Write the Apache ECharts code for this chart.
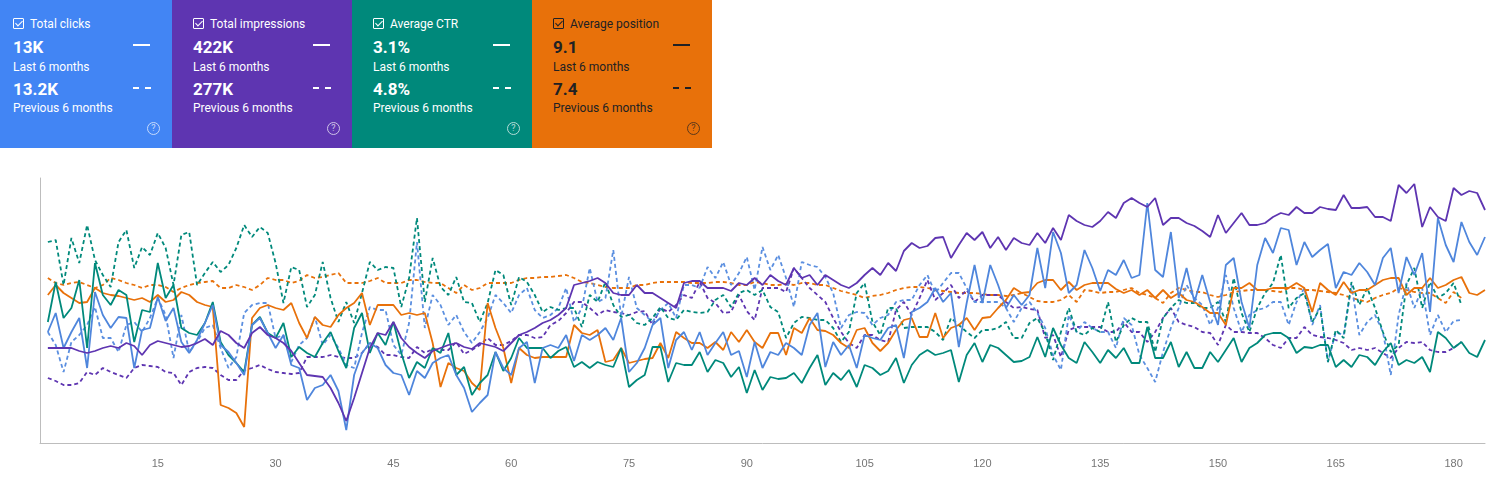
<!DOCTYPE html>
<html>
<head>
<meta charset="utf-8">
<script src="https://cdn.jsdelivr.net/npm/echarts@6/dist/echarts.min.js"></script>
<style>
  body { margin: 0; width: 1488px; height: 485px; background: #fff; font-family: Roboto, "Noto Sans", Arial, sans-serif; overflow: hidden; position: relative; }
  .card { position: absolute; top: 0; height: 148px; color: #fff; box-sizing: border-box; }
  .card .t { position: absolute; top: 17px; font-size: 12px; }
  .card .t span.cb { display: inline-block; width: 9px; height: 9px; border: 1.3px solid currentColor; border-radius: 1px; margin-right: 6px; vertical-align: -1px; position: relative; }
  .card .t span.cb:after { content: ""; position: absolute; left: 2.5px; top: 0px; width: 3px; height: 6px; border: solid currentColor; border-width: 0 1.3px 1.3px 0; transform: rotate(45deg); }
  .card .v { position: absolute; font-size: 17px; font-weight: bold; }
  .card .l { position: absolute; font-size: 12px; }
  .card .solid { position: absolute; top: 44px; width: 17px; border-top: 2px solid currentColor; }
  .card .dash { position: absolute; top: 87px; width: 18px; border-top: 2px dashed currentColor; }
  .card .h { position: absolute; top: 122px; width: 11px; height: 11px; border: 1.3px solid currentColor; border-radius: 50%; font-size: 9px; line-height: 11px; text-align: center; opacity: 0.7; }
  #chart { position: absolute; left: 0; top: 0; width: 1488px; height: 485px; }
</style>
</head>
<body>
<div id="chart"></div>
<div id="cards"></div>
<script>
// days on the x axis
const days = Array.from({ length: 184 }, (_, i) => i + 1);

const clicksNow = [111,130,95,111,125,75,151,128,115,126,125,75,113,115,146,122,135,101,90,103,
120,138,98,91,80,68,118,125,110,95,108,78,75,43,55,58,68,52,13,68,
90,100,95,78,70,68,48,72,65,80,85,88,68,55,31,40,48,91,75,68,
95,101,60,95,98,95,108,82,108,103,108,115,103,125,71,80,95,118,125,75,
103,111,93,111,88,100,111,88,92,66,101,75,91,88,100,95,88,118,130,76,
101,88,98,75,108,105,103,115,118,85,131,135,141,155,141,150,96,140,178,140,
178,158,135,148,138,148,195,155,211,190,150,158,193,175,152,173,168,183,165,168,
240,173,166,211,145,175,141,168,141,118,178,185,141,115,178,205,190,215,213,178,
201,186,193,199,155,171,168,180,171,158,185,195,150,186,168,190,131,225,198,181,
221,201,188,206];
const clicksPrev = [111,98,71,101,108,118,136,105,105,91,118,121,111,125,145,128,85,128,91,101,
115,118,95,75,86,130,138,140,140,105,108,81,98,105,126,98,108,95,78,75,
110,136,133,133,98,88,120,201,115,148,138,118,128,111,100,111,125,148,140,130,
148,155,133,125,128,135,155,121,135,175,141,145,193,126,166,135,128,121,133,140,
125,158,158,155,176,165,181,158,170,186,153,196,173,188,165,136,181,178,176,166,
150,115,128,131,130,118,125,128,141,143,143,158,168,150,160,170,170,155,141,141,
141,141,135,121,135,141,130,115,88,73,128,111,121,115,111,111,95,125,118,88,
75,61,91,115,135,158,145,138,118,135,168,135,111,128,133,135,141,141,118,141,
155,118,138,81,111,108,158,108,121,128,111,68,128,160,135,155,108,128,111,122,
123];
const imprNow = [95,95,95,95,92,90,92,95,97,95,100,97,88,98,102,100,98,96,97,100,
104,98,112,108,100,95,110,116,108,105,100,92,80,68,67,66,55,40,22,45,
70,95,110,108,121,105,96,90,85,92,95,98,100,96,94,100,98,96,92,100,
108,111,115,120,123,128,135,158,160,162,165,160,150,148,148,158,150,150,145,140,
135,160,162,162,155,155,155,152,160,158,165,158,168,162,158,175,165,168,158,168,
163,158,155,160,168,175,168,180,172,192,200,195,197,205,206,185,198,210,203,211,
195,206,193,205,200,198,210,200,215,203,228,222,218,216,222,231,225,240,245,240,
236,245,218,225,225,220,217,212,206,228,210,220,230,218,218,220,226,230,228,236,
230,230,236,234,233,248,235,235,236,226,226,222,258,250,259,216,236,226,222,255,
248,252,250,233];
const imprPrev = [65,62,58,58,60,71,68,75,71,68,65,75,78,77,76,71,70,58,71,75,
76,75,68,63,63,73,75,78,74,71,70,69,70,86,86,86,88,86,85,85,
90,100,96,88,88,86,85,96,90,94,93,93,101,89,93,98,105,98,98,102,
108,108,105,106,118,122,130,141,141,135,128,133,131,130,128,131,132,118,135,131,
138,148,145,161,145,140,130,131,148,132,123,155,155,155,151,175,165,155,148,141,
125,111,100,95,108,108,103,101,133,141,128,145,163,143,150,158,145,153,141,148,
148,148,141,135,136,134,133,105,108,86,113,116,116,116,116,111,111,121,111,111,
101,111,125,135,121,118,116,111,110,98,118,111,111,110,110,105,98,95,105,105,
116,108,106,105,103,100,93,95,93,95,90,85,95,101,100,101,93,91,91,95,
101];
const ctrNow = [121,161,125,135,163,95,180,148,138,153,148,101,133,131,180,145,158,115,110,108,
120,141,101,88,80,71,118,126,110,105,120,86,96,90,86,100,111,92,75,115,
130,90,110,98,121,90,65,81,75,95,90,110,68,76,48,60,68,91,72,85,
105,95,95,95,85,92,96,76,81,75,81,78,76,95,56,63,68,96,96,61,
80,78,78,91,71,83,80,66,76,50,73,53,66,64,65,70,60,75,88,58,
70,63,73,56,78,75,68,72,85,60,78,88,93,88,90,93,61,88,100,81,
98,95,88,81,82,86,106,86,115,98,85,80,101,91,80,93,85,95,80,80,
116,85,85,101,76,91,75,75,91,81,93,105,81,95,100,108,110,110,105,90,
96,95,98,98,76,83,76,88,86,78,91,100,78,83,80,86,71,111,105,95,
101,90,86,103];
const ctrPrev = [201,203,158,205,180,218,183,168,156,201,213,175,196,188,210,195,158,208,211,158,
170,181,171,178,195,218,206,216,210,180,140,176,173,136,148,181,145,121,141,120,
150,181,173,176,175,136,165,225,141,185,156,148,166,141,140,121,140,173,168,138,
166,161,148,131,136,133,135,135,116,148,141,161,138,126,128,120,118,125,136,125,
123,133,131,130,131,143,148,136,150,153,148,153,136,131,105,120,126,125,123,123,
115,101,111,150,160,121,108,135,135,115,116,116,116,111,103,125,118,111,105,113,
113,115,121,105,105,120,125,110,83,111,135,111,108,115,111,141,101,118,125,121,
121,91,125,135,143,140,140,135,135,141,121,165,130,111,135,150,160,188,135,145,
150,121,135,81,113,105,161,138,155,135,111,91,98,158,175,135,161,145,150,160,
138];
const posNow = [148,158,150,145,140,141,155,150,148,147,145,143,145,141,148,141,143,151,148,141,
138,136,38,35,30,16,125,135,138,135,133,140,120,105,126,118,116,128,135,140,
150,118,138,138,138,128,130,128,130,100,56,80,75,72,60,53,140,115,95,60,
95,88,85,86,86,86,86,118,110,108,113,81,83,95,80,82,84,85,100,85,
111,105,100,100,95,101,93,111,101,113,101,95,110,110,88,115,110,125,113,112,
108,100,95,113,115,100,92,100,113,123,125,106,106,130,105,115,118,125,113,125,
126,135,143,155,150,151,160,163,163,153,161,153,158,160,160,160,154,150,153,148,
153,145,153,145,150,143,141,136,130,130,118,155,155,160,153,153,155,155,155,160,
155,131,160,153,148,161,150,153,153,158,163,165,165,148,155,155,165,155,158,163,
166,150,148,153];
const posPrev = [165,160,158,160,161,158,155,158,165,163,160,158,155,158,158,156,151,155,158,160,
161,162,155,155,158,156,153,158,165,163,163,160,162,168,165,166,168,170,160,160,
160,162,165,160,160,160,163,163,161,160,160,155,150,158,153,155,160,160,160,160,
163,165,165,166,166,167,168,165,161,160,158,156,155,155,155,158,158,160,161,161,
161,161,160,160,160,161,161,160,158,158,161,160,158,158,159,158,160,160,158,158,
155,152,150,148,145,147,148,150,153,155,156,156,155,153,152,151,150,150,150,149,
148,148,147,148,150,146,142,141,141,143,148,141,153,152,150,151,151,153,155,150,
148,145,140,150,155,153,151,151,148,146,148,151,152,153,153,153,152,151,155,155,
153,153,152,151,150,148,145,143,141,145,148,150,155,153,151,150,150,145,140,151,
145];
const xTicks = [15, 30, 45, 60, 75, 90, 105, 120, 135, 150, 165, 180];

const cards = [
  { title: 'Total clicks', now: '13K', prev: '13.2K', bg: '#4285f4', fg: '#fff', left: 0, width: 172, pad: 13 },
  { title: 'Total impressions', now: '422K', prev: '277K', bg: '#5e35b1', fg: '#fff', left: 172, width: 180, pad: 21 },
  { title: 'Average CTR', now: '3.1%', prev: '4.8%', bg: '#00897b', fg: '#fff', left: 352, width: 180, pad: 21 },
  { title: 'Average position', now: '9.1', prev: '7.4', bg: '#e8710a', fg: '#202124', left: 532, width: 180, pad: 21 }
];
document.getElementById('cards').innerHTML = cards.map(c => {
  const p = c.pad, m = p + 120, h = p + 134;
  return `<div class="card" style="left:${c.left}px;width:${c.width}px;background:${c.bg};color:${c.fg}">
    <div class="t" style="left:${p}px"><span class="cb"></span>${c.title}</div>
    <div class="v" style="top:37px;left:${p}px">${c.now}</div><div class="solid" style="left:${m}px"></div>
    <div class="l" style="top:60px;left:${p}px">Last 6 months</div>
    <div class="v" style="top:79px;left:${p}px">${c.prev}</div><div class="dash" style="left:${m}px"></div>
    <div class="l" style="top:101px;left:${p}px">Previous 6 months</div>
    <div class="h" style="left:${h}px">?</div>
  </div>`;
}).join('');

const pts = arr => arr.map((v, i) => [days[i], v]);
const line = (data, color, dashed) => ({
  type: 'line', data: pts(data), showSymbol: false, silent: true,
  lineStyle: { color, width: 1.8, type: dashed ? [4, 3] : 'solid' }
});

const chart = echarts.init(document.getElementById('chart'));
chart.setOption({
  animation: false,
  grid: { left: 40, top: 178, right: 0, height: 265 },
  xAxis: {
    type: 'value', min: 0, max: 184, interval: 15,
    axisLine: { lineStyle: { color: '#bdbdbd' } },
    axisTick: { show: false }, splitLine: { show: false },
    axisLabel: { color: '#757575', fontSize: 11, margin: 15,
      formatter: v => xTicks.includes(v) ? String(v) : '' }
  },
  yAxis: {
    type: 'value', min: 0, max: 265,
    axisLine: { show: true, lineStyle: { color: '#bdbdbd' } },
    axisLabel: { show: false }, axisTick: { show: false }, splitLine: { show: false }
  },
  series: [
    line(posPrev, '#e8710a', true),
    line(imprPrev, '#5e35b1', true),
    line(clicksPrev, '#5b8fe0', true),
    line(ctrPrev, '#00897b', true),
    line(posNow, '#e8710a', false),
    line(ctrNow, '#00897b', false),
    line(clicksNow, '#4f86dc', false),
    line(imprNow, '#5e35b1', false)
  ]
});
</script>
</body>
</html>
